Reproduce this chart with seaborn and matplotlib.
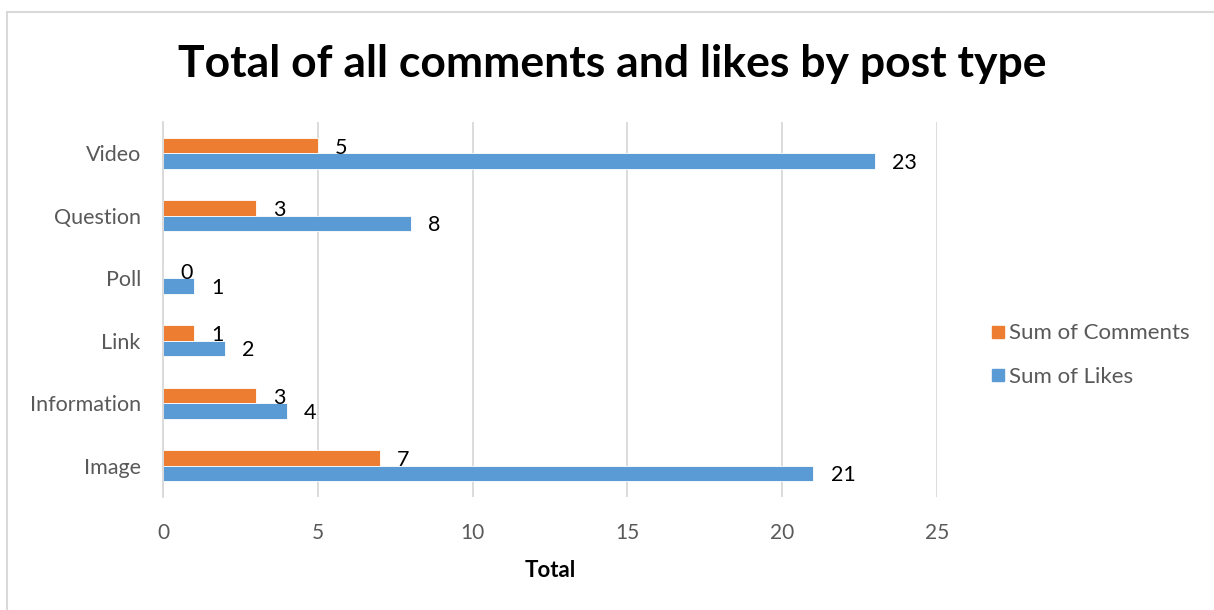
import matplotlib
matplotlib.use("Agg")
import matplotlib.pyplot as plt
import seaborn as sns
import pandas as pd
from matplotlib.lines import Line2D

categories = ["Video", "Question", "Poll", "Link", "Information", "Image"]
comments = [5, 3, 0, 1, 3, 7]
likes = [23, 8, 1, 2, 4, 21]
series = ["Sum of Comments", "Sum of Likes"]
x_ticks = [0, 5, 10, 15, 20, 25]

df = pd.DataFrame({
    "Post type": categories * 2,
    "Total": comments + likes,
    "Series": [series[0]] * len(categories) + [series[1]] * len(categories),
})

sns.set_theme(style="white")
plt.rcParams["font.family"] = ["Lato", "DejaVu Sans"]

fig = plt.figure(figsize=(12.14, 6.10), dpi=100)
ax = fig.add_axes([163 / 1214, 1 - 497 / 610, (937 - 163) / 1214, (497 - 122) / 610])

sns.barplot(data=df, y="Post type", x="Total", hue="Series", order=categories,
            hue_order=series, palette=["#ED7D31", "#5B9BD5"], width=0.49,
            orient="h", ax=ax, legend=False, saturation=1, linewidth=0.6,
            edgecolor="#FFFFFF")

for cont in ax.containers:
    for bar in cont:
        w = bar.get_width()
        ax.annotate(f"{w:g}", xy=(w, bar.get_y() + bar.get_height() / 2),
                    xytext=(12.5, -1.5), textcoords="offset points",
                    ha="left", va="center", fontsize=15.5, color="black")

ax.set_xlim(0, 25)
ax.set_xticks(x_ticks)
ax.set_xticklabels([str(t) for t in x_ticks])
ax.xaxis.grid(True, color="#D9D9D9", linewidth=1.3)
ax.yaxis.grid(False)
ax.set_axisbelow(True)
for s in ["top", "right", "bottom"]:
    ax.spines[s].set_visible(False)
ax.spines["left"].set_color("#D9D9D9")
ax.spines["left"].set_linewidth(1.3)
ax.tick_params(axis="x", length=0, pad=19, labelsize=15, labelcolor="#595959")
ax.tick_params(axis="y", length=0, pad=16, labelsize=15.5, labelcolor="#595959")
ax.set_ylabel("")
ax.set_xlabel("Total", fontsize=16, fontweight="bold", color="black", labelpad=12)

fig.text(0.504, 1 - 64 / 610, "Total of all comments and likes by post type",
         ha="center", va="center", fontsize=32, fontweight="bold", color="black")

handles = [Line2D([0], [0], marker="s", linestyle="", markersize=8.5,
                  markerfacecolor=c, markeredgecolor=c) for c in ["#ED7D31", "#5B9BD5"]]
leg = fig.legend(handles, series, loc="center left",
                 bbox_to_anchor=(988 / 1214, 1 - 355 / 610), frameon=False,
                 fontsize=16, labelspacing=1.05, handletextpad=0.05, handlelength=0.9,
                 borderaxespad=0, borderpad=0)
for t in leg.get_texts():
    t.set_color("#595959")

fig.add_artist(Line2D([7 / 1214, 7 / 1214], [0, 1 - 12 / 610], transform=fig.transFigure,
                      color="#D9D9D9", linewidth=1.5))
fig.add_artist(Line2D([7 / 1214, 1], [1 - 12 / 610, 1 - 12 / 610], transform=fig.transFigure,
                      color="#D9D9D9", linewidth=1.5))

fig.savefig("out.png", dpi=100, facecolor="white")
